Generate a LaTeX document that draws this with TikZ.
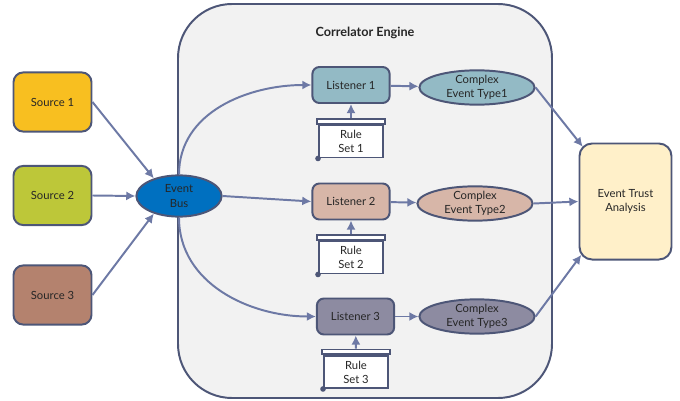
\documentclass[tikz,border=0pt]{standalone}
\usepackage{fontspec}
\setmainfont{Lato}
\usetikzlibrary{shapes.geometric,arrows.meta}

\definecolor{rim}{HTML}{4D5677}
\definecolor{flow}{HTML}{6D79A5}
\definecolor{engine}{HTML}{F2F2F2}
\definecolor{srcA}{HTML}{F8BF20}
\definecolor{srcB}{HTML}{BDC739}
\definecolor{srcC}{HTML}{B4826E}
\definecolor{lisA}{HTML}{93BAC5}
\definecolor{lisB}{HTML}{D7B6A8}
\definecolor{lisC}{HTML}{8D8BA1}
\definecolor{busblue}{HTML}{0070C0}
\definecolor{trustbg}{HTML}{FFF0C9}
\definecolor{ink}{HTML}{262626}

\tikzset{
  lbl/.style={font=\fontsize{8}{10}\selectfont, text=ink, align=center},
  source/.style={lbl, draw=rim, line width=1.4pt, rounded corners=7pt,
    minimum width=1.95cm, minimum height=1.48cm},
  listener/.style={lbl, draw=rim, line width=1.4pt, rounded corners=5pt,
    minimum width=1.93cm, minimum height=0.9cm},
  cevent/.style={lbl, ellipse, draw=rim, line width=1.4pt, inner sep=0pt,
    minimum width=2.88cm, minimum height=0.82cm},
  rule/.style={lbl, draw=rim, fill=white, line width=1.4pt, inner sep=1pt,
    minimum width=1.6cm, minimum height=0.8cm},
  rollbar/.style={draw=rim, fill=white, line width=1.2pt, inner sep=0pt,
    minimum width=1.7cm, minimum height=0.12cm},
  flowarrow/.style={draw=flow, line width=1.4pt, -{Latex[length=6.5pt,width=6.5pt]}},
}

\begin{document}
\begin{tikzpicture}[x=0.025cm,y=-0.025cm]
    \useasboundingbox (0,0) rectangle (680,401);
    % correlator engine
    \draw[draw=rim, fill=engine, line width=1.4pt, rounded corners=1.35cm]
        (178,4) rectangle (552,398);
    \node[lbl, font=\fontsize{9}{11}\selectfont\bfseries] (title) at (365,33) {Correlator Engine};

    % sources and bus
    \node[source, fill=srcA] (s1) at (52.5,102) {Source 1};
    \node[source, fill=srcB] (s2) at (52.5,195.5) {Source 2};
    \node[source, fill=srcC] (s3) at (52.5,295) {Source 3};
    \node[lbl, ellipse, draw=rim, fill=busblue, line width=1.4pt, inner sep=0pt,
        minimum width=2.13cm, minimum height=1.03cm] (bus) at (179,196) {Event\\Bus};

    % listeners
    \node[listener, fill=lisA] (l1) at (351,85) {Listener 1};
    \node[listener, fill=lisB] (l2) at (351,201.5) {Listener 2};
    \node[listener, fill=lisC] (l3) at (355.5,316.5) {Listener 3};

    \node[cevent, fill=lisA] (c1) at (477,87.5) {Complex\\Event Type1};
    \node[cevent, fill=lisB] (c2) at (475,203.5) {Complex\\Event Type2};
    \node[cevent, fill=lisC] (c3) at (477,316.5) {Complex\\Event Type3};

    % rule sets (scrolls)
    \node[rule] (r1) at (351,141.5) {Rule\\Set 1};
    \node[rule] (r2) at (351,257.5) {Rule\\Set 2};
    \node[rule] (r3) at (356,372) {Rule\\Set 3};
    \node[rollbar, anchor=south] (r1bar) at (r1.north) {};
    \node[rollbar, anchor=south] (r2bar) at (r2.north) {};
    \node[rollbar, anchor=south] (r3bar) at (r3.north) {};
    \fill[rim] (r1.south west) circle (2pt);
    \fill[rim] (r2.south west) circle (2pt);
    \fill[rim] (r3.south west) circle (2pt);

    \node[lbl, draw=rim, fill=trustbg, line width=1.4pt, rounded corners=9pt,
        minimum width=2.3cm, minimum height=2.9cm] (trust) at (625.5,201.5) {Event Trust\\Analysis};

    % connectors
    \draw[flowarrow] (s1.east) -- (bus.145);
    \draw[flowarrow] (s2.east) -- (bus.west);
    \draw[flowarrow] (s3.east) -- (bus.215);
    \draw[flowarrow] (bus.north) to[out=90,in=180] (l1.west);
    \draw[flowarrow] (bus.east) -- (l2.west);
    \draw[flowarrow] (bus.south) to[out=-90,in=180] (l3.west);
    \draw[flowarrow] (l1) -- (c1);
    \draw[flowarrow] (l2) -- (c2);
    \draw[flowarrow] (l3) -- (c3);
    \draw[flowarrow] (r1bar) -- (l1);
    \draw[flowarrow] (r2bar) -- (l2);
    \draw[flowarrow] (r3bar) -- (l3);
    \draw[flowarrow] (c1.east) -- ([xshift=3pt,yshift=-3pt]trust.north west);
    \draw[flowarrow] (c2.east) -- (trust.west);
    \draw[flowarrow] (c3.east) -- ([xshift=2pt,yshift=4pt]trust.south west);
\end{tikzpicture}
\end{document}
